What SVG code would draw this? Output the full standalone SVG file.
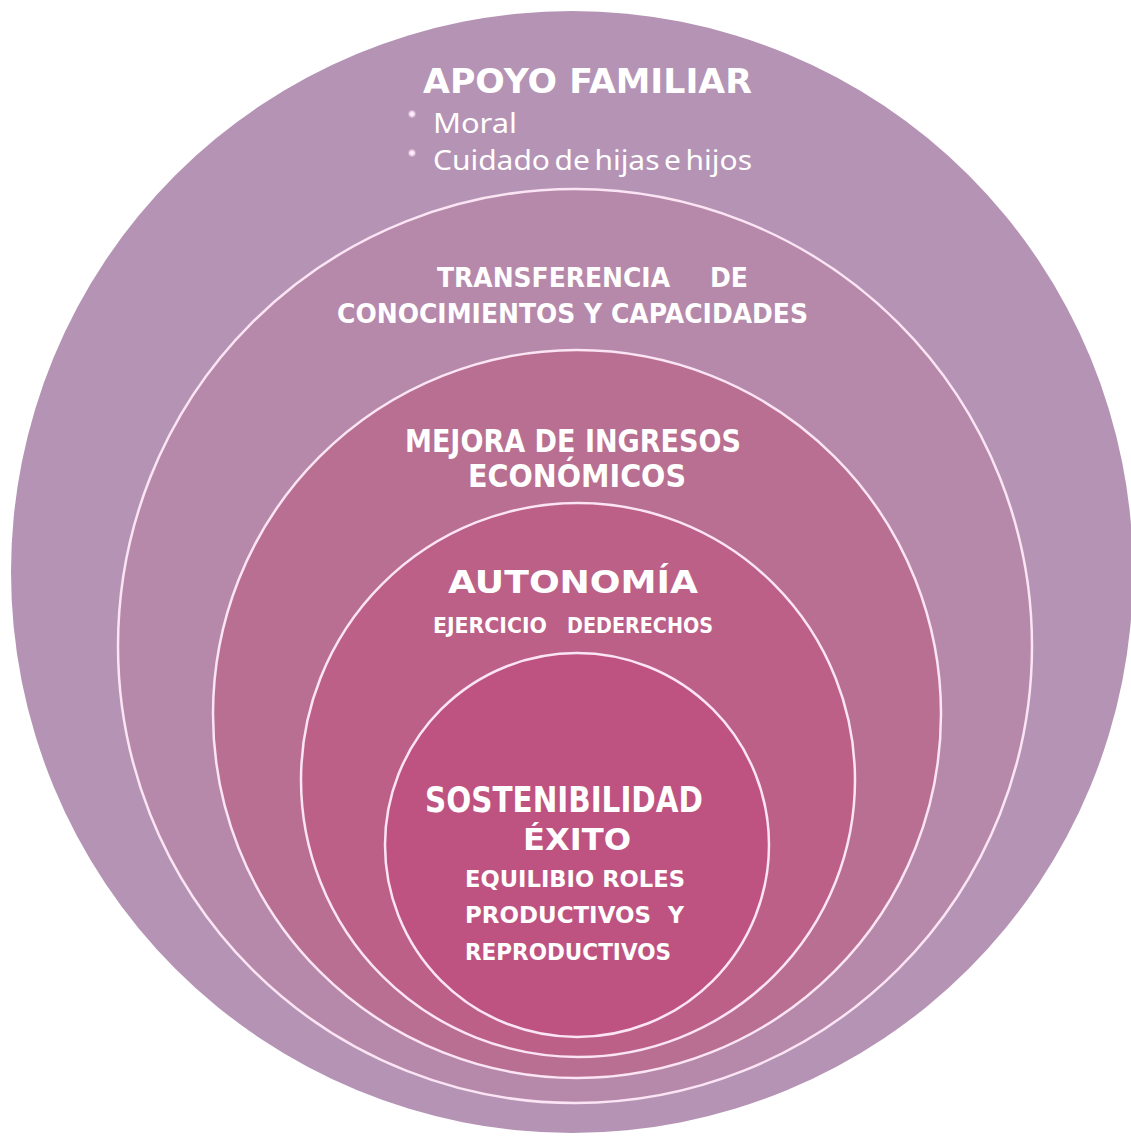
<svg xmlns="http://www.w3.org/2000/svg" width="1131" height="1137" viewBox="0 0 1131 1137">
<style>
.ring{stroke:#fbe4f3;stroke-width:2.5}
.b{font-family:"DejaVu Sans","Liberation Sans",sans-serif;font-weight:bold;fill:#ffffff}
.r{font-family:"Noto Sans","Liberation Sans",sans-serif;fill:#ffffff}
</style>
<defs>
<radialGradient id="dot" cx="0.5" cy="0.5" r="0.5">
<stop offset="0" stop-color="#ffffff"/>
<stop offset="0.5" stop-color="#f4d6ef"/>
<stop offset="1" stop-color="#b593b5" stop-opacity="0"/>
</radialGradient>
</defs>
<rect width="1131" height="1137" fill="#ffffff"/>
<g id="apoyo-familiar">
<circle cx="572" cy="572" r="561" fill="#b593b5"/>
<text class="b" x="423" y="93" font-size="34" textLength="329" lengthAdjust="spacingAndGlyphs">APOYO FAMILIAR</text>
<circle cx="412" cy="114" r="5" fill="url(#dot)"/>
<circle cx="412" cy="153" r="5" fill="url(#dot)"/>
<text class="r" x="433" y="133" font-size="28" textLength="84" lengthAdjust="spacingAndGlyphs">Moral</text>
<text class="r" x="433" y="170" font-size="28" textLength="319" lengthAdjust="spacingAndGlyphs" word-spacing="-3">Cuidado de hijas e hijos</text>
</g>
<g id="transferencia">
<circle class="ring" cx="575" cy="646" r="457" fill="#b689ab"/>
<text class="b" y="287" font-size="27"><tspan x="437" textLength="233" lengthAdjust="spacingAndGlyphs">TRANSFERENCIA</tspan><tspan x="710" textLength="38" lengthAdjust="spacingAndGlyphs">DE</tspan></text>
<text class="b" x="337" y="323" font-size="27" textLength="471" lengthAdjust="spacingAndGlyphs">CONOCIMIENTOS Y CAPACIDADES</text>
</g>
<g id="mejora-ingresos">
<circle class="ring" cx="577" cy="714" r="364" fill="#b96f91"/>
<text class="b" x="405" y="452" font-size="32" textLength="336" lengthAdjust="spacingAndGlyphs">MEJORA DE INGRESOS</text>
<text class="b" x="468" y="487" font-size="32" textLength="218" lengthAdjust="spacingAndGlyphs">ECONÓMICOS</text>
</g>
<g id="autonomia">
<circle class="ring" cx="578" cy="780" r="277" fill="#bc6088"/>
<text class="b" x="448" y="593" font-size="32" textLength="250" lengthAdjust="spacingAndGlyphs">AUTONOMÍA</text>
<text class="b" y="633" font-size="22"><tspan x="433" textLength="114" lengthAdjust="spacingAndGlyphs">EJERCICIO</tspan><tspan x="567" textLength="146" lengthAdjust="spacingAndGlyphs">DEDERECHOS</tspan></text>
</g>
<g id="sostenibilidad">
<circle class="ring" cx="577" cy="845" r="192" fill="#be5381"/>
<text class="b" x="425" y="812" font-size="35" textLength="278" lengthAdjust="spacingAndGlyphs">SOSTENIBILIDAD</text>
<text class="b" x="523" y="850" font-size="30" textLength="108" lengthAdjust="spacingAndGlyphs">ÉXITO</text>
<text class="b" x="465" y="887" font-size="23" textLength="220" lengthAdjust="spacingAndGlyphs">EQUILIBIO ROLES</text>
<text class="b" y="923" font-size="23"><tspan x="465" textLength="186" lengthAdjust="spacingAndGlyphs">PRODUCTIVOS</tspan><tspan x="668" textLength="16" lengthAdjust="spacingAndGlyphs">Y</tspan></text>
<text class="b" x="465" y="960" font-size="23" textLength="206" lengthAdjust="spacingAndGlyphs">REPRODUCTIVOS</text>
</g>
<g id="connectors"/>
</svg>
